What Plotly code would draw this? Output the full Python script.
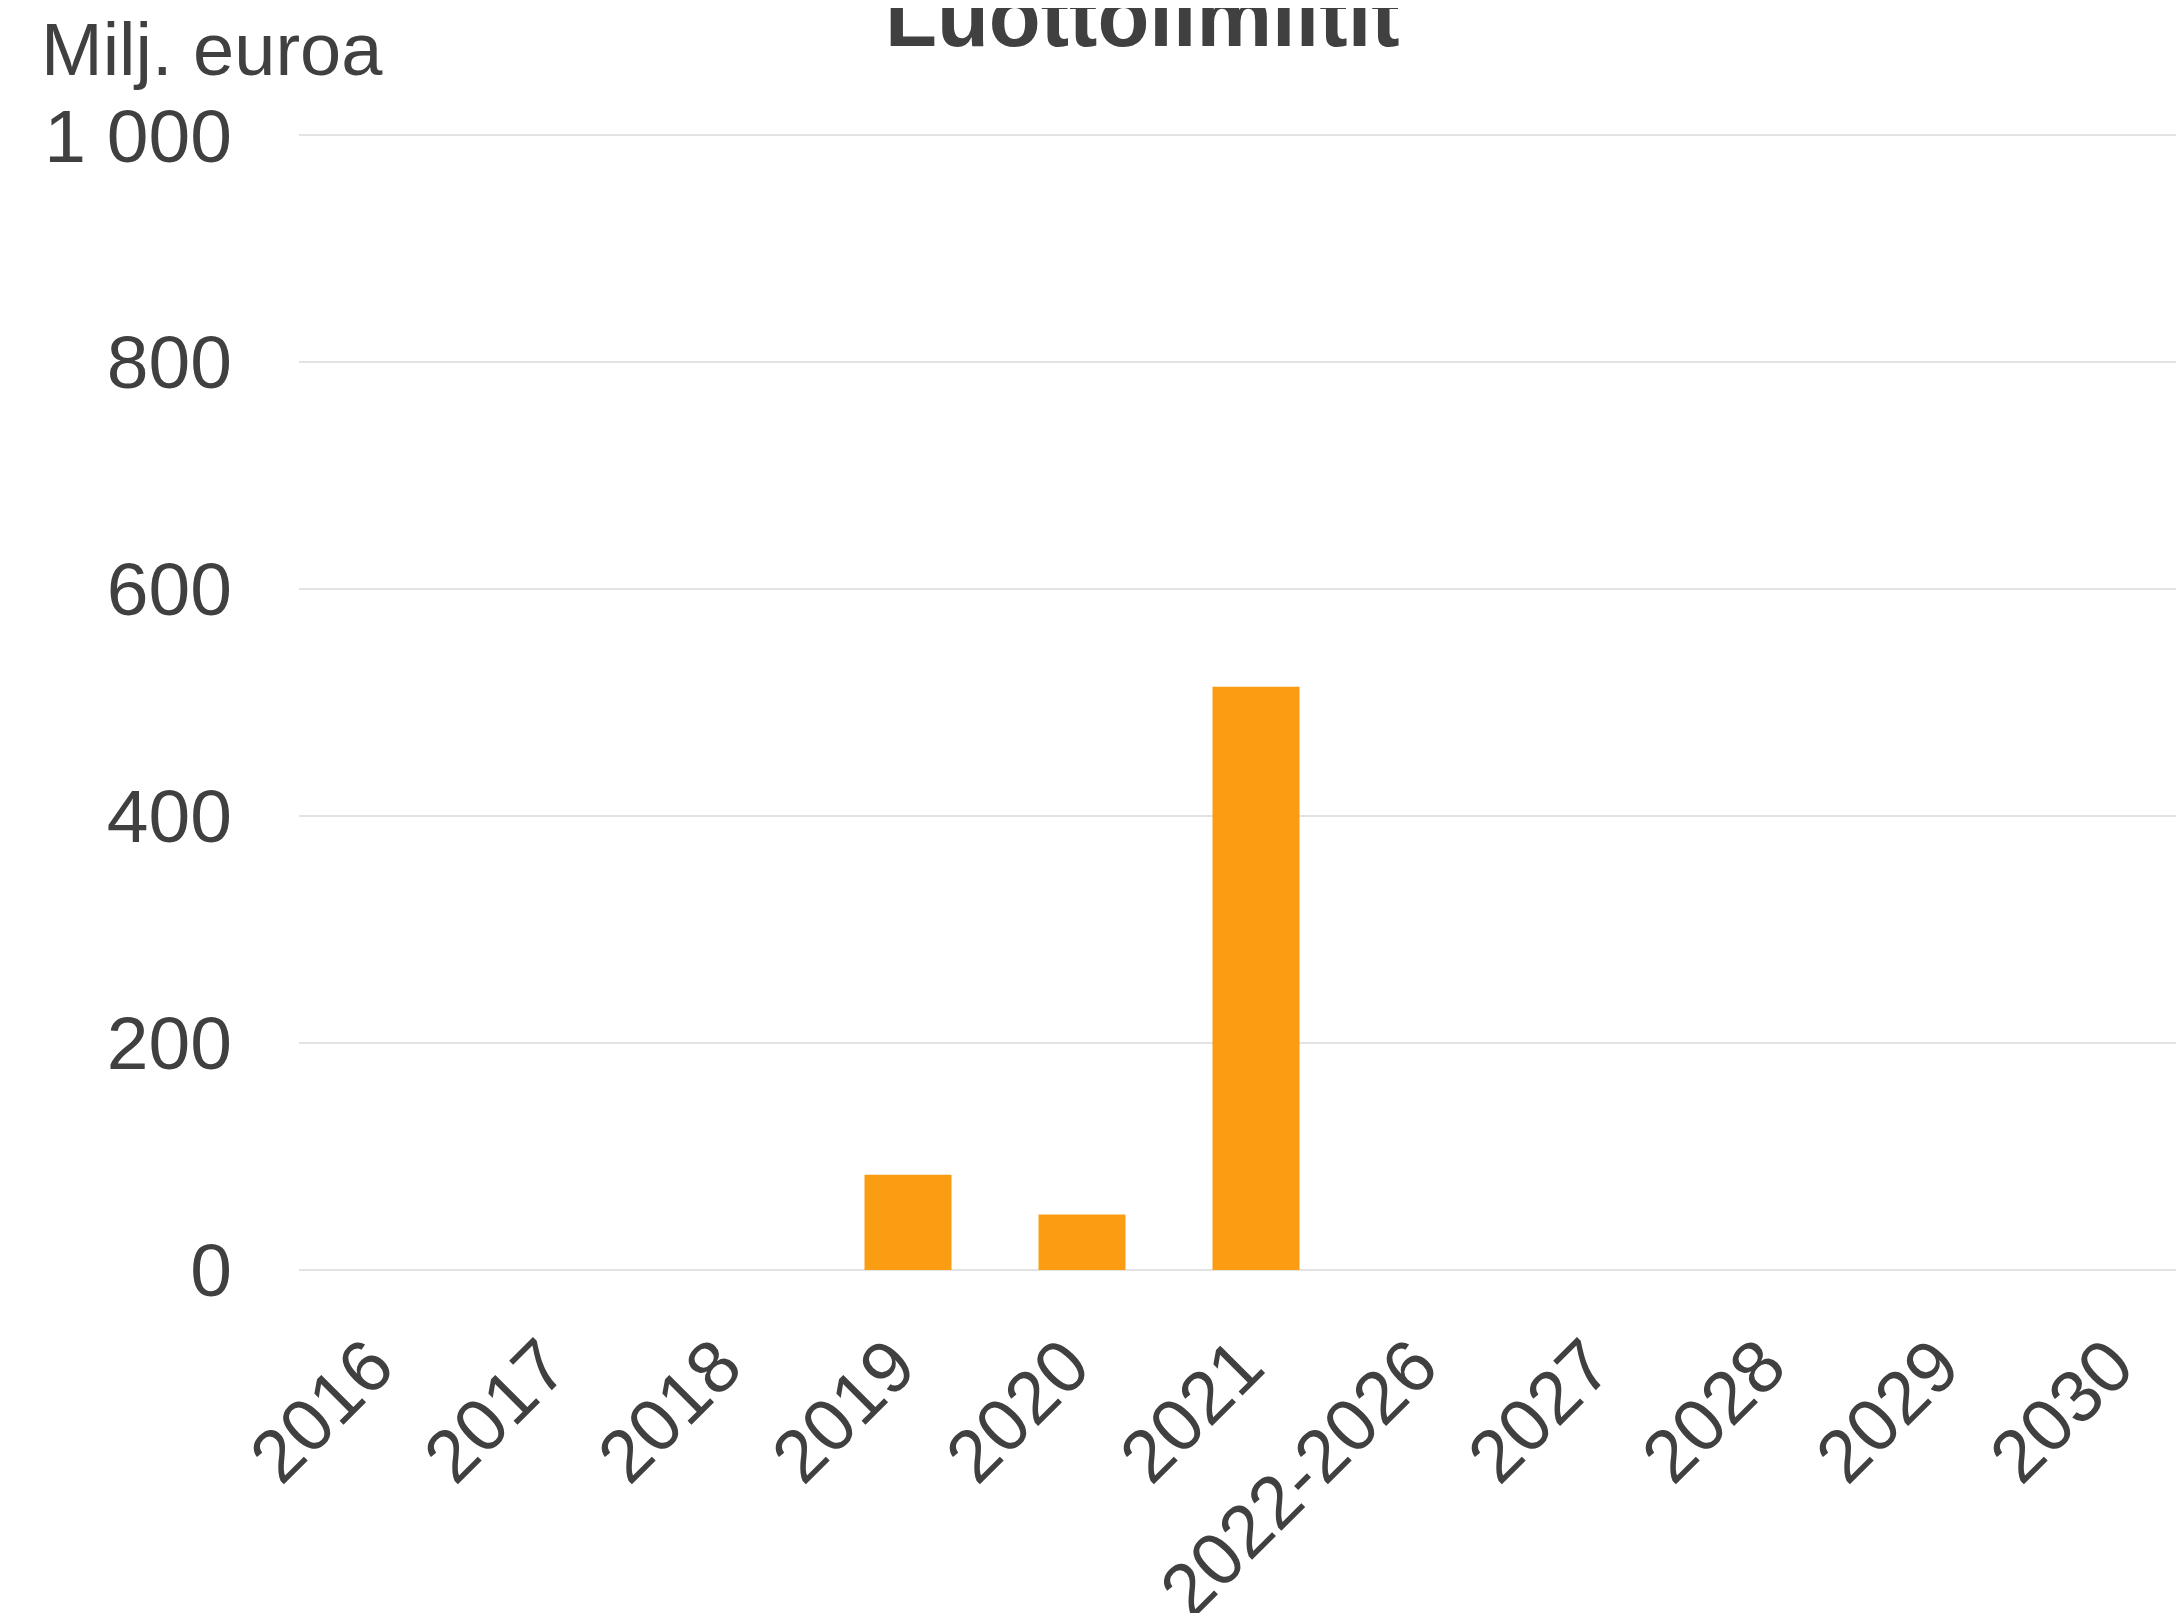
import plotly.graph_objects as go

categories = ["2016", "2017", "2018", "2019", "2020", "2021", "2022-2026",
              "2027", "2028", "2029", "2030"]
values = [0, 0, 0, 84, 49, 514, 0, 0, 0, 0, 0]
y_tickvals = [0, 200, 400, 600, 800, 1000]
y_ticktext = ["0", "200", "400", "600", "800", "1 000"]
title_text = "Luottolimiitit"
unit_text = "Milj. euroa"

W, H = 2184, 1613
L, T, B = 291, 125, 351
plot_w = W - L
plot_h = H - T - B
cat_w = 174.0
x_right = -0.5 + plot_w / cat_w

FONT = "Liberation Sans, Arial, sans-serif"
TEXT = "#404040"

fig = go.Figure(go.Bar(
    x=list(range(len(categories))), y=values,
    marker=dict(color="#FA9D12", line=dict(width=0)),
    width=0.5,
))

fig.update_layout(
    width=W, height=H,
    margin=dict(l=L, r=0, t=T, b=B, pad=0, autoexpand=False),
    paper_bgcolor="white", plot_bgcolor="white",
    showlegend=False,
    font=dict(family=FONT, color=TEXT, size=74),
    xaxis=dict(
        range=[-0.5, x_right], automargin=False,
        tickmode="array", tickvals=list(range(len(categories))),
        ticktext=[c + "\u00a0" for c in categories],
        tickangle=-45, showgrid=False, zeroline=False, showline=False,
        ticks="outside", ticklen=7, tickcolor="rgba(0,0,0,0)",
        tickfont=dict(size=74, color=TEXT, family=FONT),
        fixedrange=True,
    ),
    yaxis=dict(
        range=[0, 1002], automargin=False,
        tickmode="array", tickvals=y_tickvals, ticktext=y_ticktext,
        showgrid=True, gridcolor="#E3E3E3", gridwidth=2,
        zeroline=True, zerolinecolor="#E3E3E3", zerolinewidth=2,
        showline=False,
        ticks="outside", ticklen=51, tickcolor="rgba(0,0,0,0)",
        tickfont=dict(size=75, color=TEXT, family=FONT),
        fixedrange=True,
    ),
    annotations=[
        dict(text="<b>" + title_text + "</b>", xref="paper", yref="paper",
             x=(1134 - L) / plot_w, y=1 + (T - 9) / plot_h,
             xanchor="center", yanchor="middle", showarrow=False,
             font=dict(size=85, color=TEXT, family=FONT)),
        dict(text=unit_text, xref="paper", yref="paper",
             x=(31 - L) / plot_w, y=1 + (T - 42) / plot_h,
             xanchor="left", yanchor="middle", showarrow=False,
             font=dict(size=74, color=TEXT, family=FONT)),
    ],
)

fig.write_html("out.html", config={"displayModeBar": False})
